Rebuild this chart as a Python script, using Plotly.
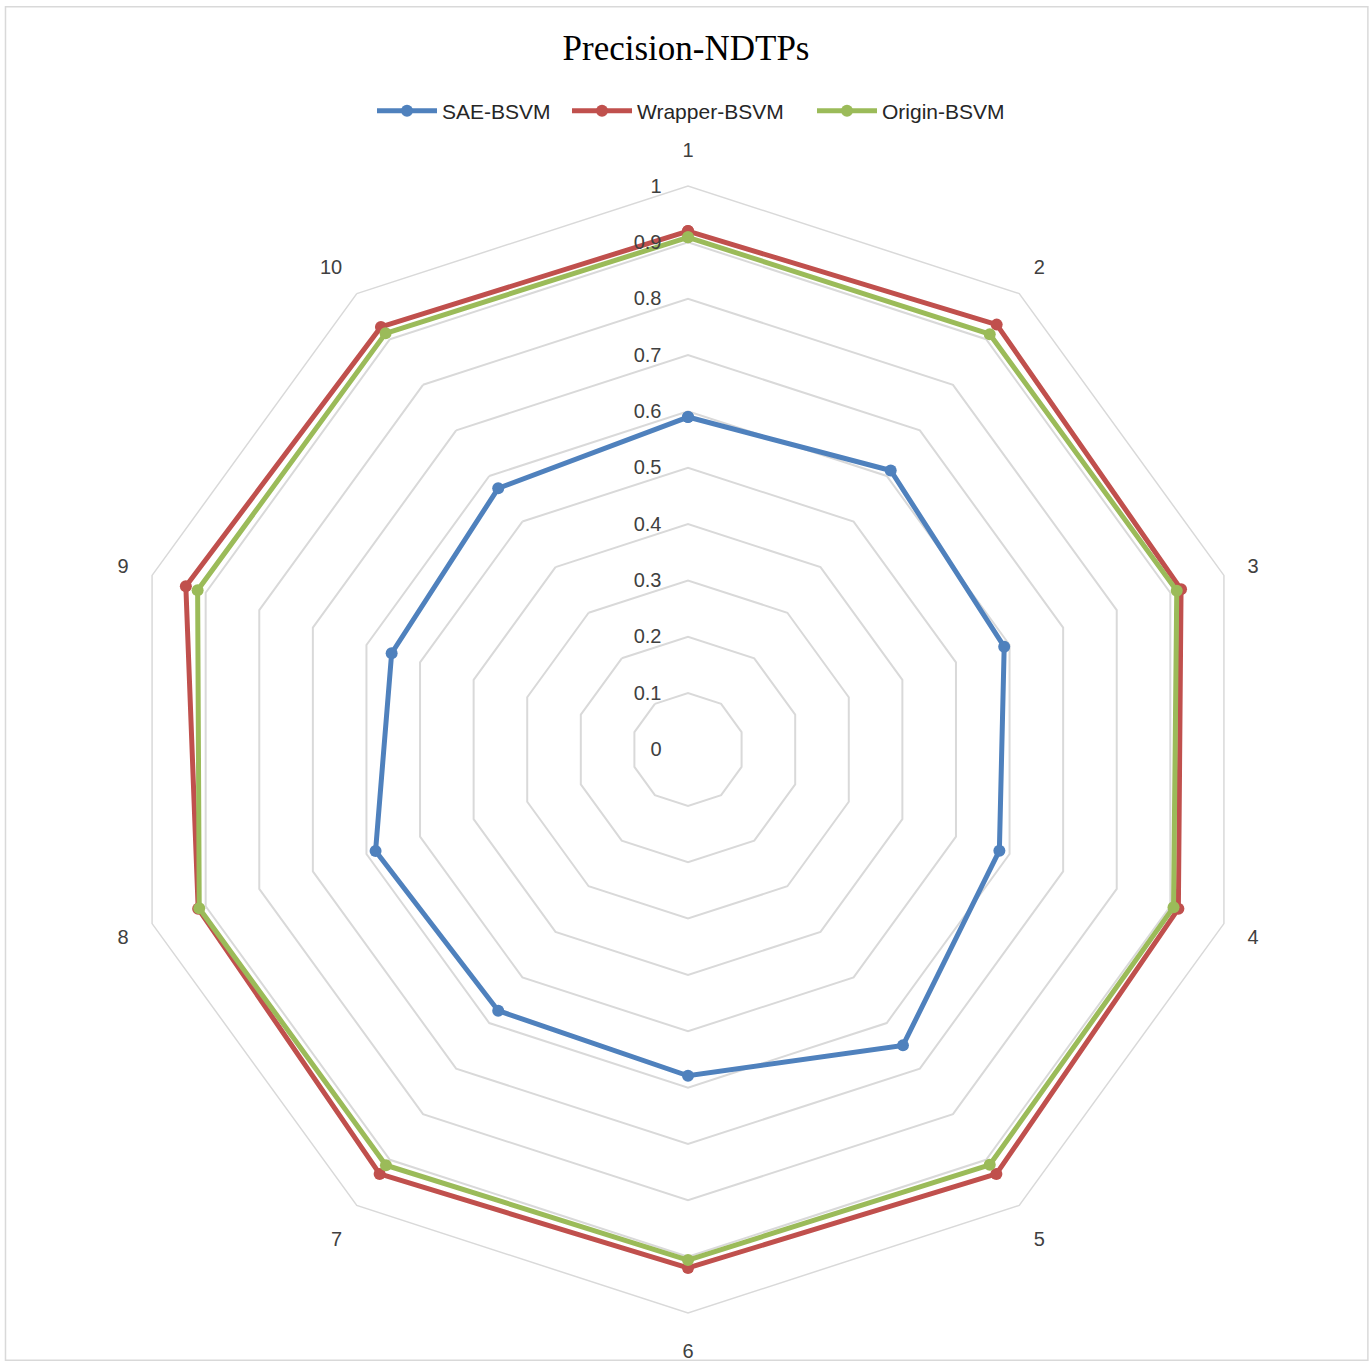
import plotly.graph_objects as go

categories = ["1", "2", "3", "4", "5", "6", "7", "8", "9", "10"]
sae_bsvm = [0.59, 0.612, 0.59, 0.581, 0.649, 0.579, 0.573, 0.583, 0.553, 0.573]
wrapper_bsvm = [0.92, 0.932, 0.92, 0.915, 0.931, 0.92, 0.931, 0.914, 0.937, 0.927]
origin_bsvm = [0.909, 0.911, 0.912, 0.906, 0.911, 0.906, 0.912, 0.912, 0.915, 0.913]
radial_ticks = [0, 0.1, 0.2, 0.3, 0.4, 0.5, 0.6, 0.7, 0.8, 0.9, 1]
radial_ticktext = ["0", "0.1", "0.2", "0.3", "0.4", "0.5", "0.6", "0.7", "0.8", "0.9", "1"]

series = [
    ("SAE-BSVM", sae_bsvm, "#4F81BD", "legend", 378),
    ("Wrapper-BSVM", wrapper_bsvm, "#C0504D", "legend2", 573),
    ("Origin-BSVM", origin_bsvm, "#9BBB59", "legend3", 818),
]

W, H = 1372, 1363
cx, cy, R = 688, 749.5, 563.5

fig = go.Figure()
legends = {}
for name, vals, color, leg, lx in series:
    fig.add_trace(go.Scatterpolar(
        r=vals + vals[:1],
        theta=categories + categories[:1],
        mode="lines+markers",
        name=name,
        legend=leg,
        showlegend=True,
        line=dict(color=color, width=5),
        marker=dict(color=color, size=12),
    ))
    legends[leg] = dict(orientation="h", x=(lx - 6) / W, xanchor="left",
                        y=1 - 111 / H, yanchor="middle",
                        font=dict(family="Liberation Sans", size=21, color="#262626"),
                        itemwidth=60, bgcolor="rgba(0,0,0,0)")

fig.update_layout(
    width=W, height=H,
    showlegend=True,
    margin=dict(l=0, r=0, t=0, b=0),
    paper_bgcolor="white",
    plot_bgcolor="white",
    title=dict(text="Precision-NDTPs", x=0.5, xanchor="center",
               y=1 - 48 / H, yanchor="middle",
               font=dict(family="Liberation Serif", size=35, color="#000000")),
    polar=dict(
        domain=dict(x=[(cx - R) / W, (cx + R) / W], y=[(H - cy - R) / H, (H - cy + R) / H]),
        bgcolor="white",
        gridshape="linear",
        angularaxis=dict(
            direction="clockwise", rotation=90,
            showgrid=False, showline=True, linecolor="#D9D9D9", linewidth=1.5,
            ticks="outside", ticklen=20, tickcolor="rgba(0,0,0,0)",
            tickfont=dict(family="Liberation Sans", size=20, color="#404040"),
        ),
        radialaxis=dict(
            range=[0, 1], tickvals=radial_ticks, ticktext=radial_ticktext,
            angle=90, tickangle=90, side="counterclockwise",
            showline=False, ticks="outside", ticklen=19, tickcolor="rgba(0,0,0,0)",
            gridcolor="#D9D9D9", gridwidth=1.5,
            tickfont=dict(family="Liberation Sans", size=20, color="#404040"),
        ),
    ),
    shapes=[dict(type="rect", xref="paper", yref="paper", x0=0.004, x1=0.997, y0=0.002, y1=0.995,
                 line=dict(color="#D9D9D9", width=1.5))],
    **legends,
)

fig.write_html("out.html")
